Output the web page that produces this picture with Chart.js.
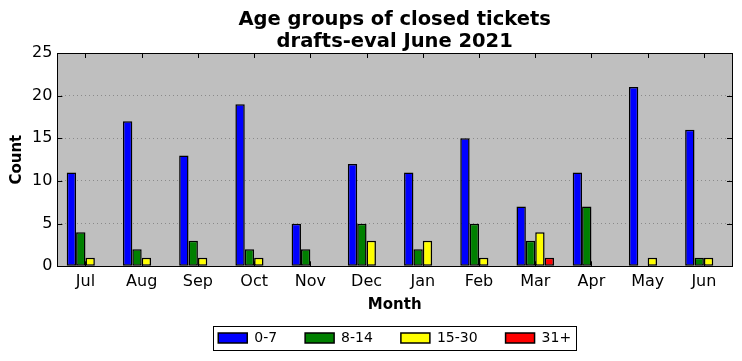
<!DOCTYPE html>
<html>
<head>
<meta charset="utf-8">
<script src="https://cdn.jsdelivr.net/npm/chart.js@4.4.1/dist/chart.umd.min.js"></script>
<style>
  html, body { margin: 0; padding: 0; background: #fff; }
  #wrap { width: 742px; height: 361px; }
</style>
</head>
<body>
<div id="wrap"><canvas id="ticketsChart" width="742" height="361"></canvas></div>
<script>
const months = ["Jul", "Aug", "Sep", "Oct", "Nov", "Dec", "Jan", "Feb", "Mar", "Apr", "May", "Jun"];
const age0to7 = [11, 17, 13, 19, 5, 12, 11, 15, 7, 11, 21, 16];
const age8to14 = [4, 2, 3, 2, 2, 5, 2, 5, 3, 7, 0, 1];
const age15to30 = [1, 1, 1, 1, 0, 3, 3, 1, 4, 0, 1, 1];
const age31plus = [0, 0, 0, 0, 0, 0, 0, 0, 1, 0, 0, 0];
const yTicks = [0, 5, 10, 15, 20, 25];

Chart.defaults.font.family = "'DejaVu Sans', sans-serif";
Chart.defaults.color = "#000";

// plot background, frame, inward ticks and a box round the legend
const framePlugin = {
  id: "frame",
  afterUpdate(chart) {
    // centre title and legend over the plot instead of the canvas
    const a = chart.chartArea;
    const mid = (a.left + a.right) / 2;
    const lg = chart.legend;
    const dx = mid - (lg.left + lg.right) / 2;
    lg.left += dx;
    lg.right += dx;
    lg.legendHitBoxes.forEach((b) => { b.left += dx; });
    const tb = chart.titleBlock;
    if (tb) {
      const tdx = mid - (tb.left + tb.right) / 2;
      tb.left += tdx;
      tb.right += tdx;
    }
  },
  beforeDraw(chart) {
    const { ctx, chartArea: a } = chart;
    ctx.save();
    ctx.fillStyle = "#bfbfbf";
    ctx.fillRect(a.left, a.top, a.right - a.left, a.bottom - a.top);
    ctx.restore();
  },
  afterDraw(chart) {
    const { ctx, chartArea: a, scales } = chart;
    ctx.save();
    ctx.strokeStyle = "#000";
    ctx.lineWidth = 1;
    ctx.strokeRect(Math.round(a.left) + 0.5, Math.round(a.top) + 0.5, Math.round(a.right - a.left), Math.round(a.bottom - a.top));
    ctx.beginPath();
    yTicks.forEach((v) => {
      const y = Math.round(scales.y.getPixelForValue(v)) + 0.5;
      ctx.moveTo(a.left, y); ctx.lineTo(a.left + 5, y);
      ctx.moveTo(a.right, y); ctx.lineTo(a.right - 5, y);
    });
    months.forEach((m, i) => {
      const x = Math.round(scales.x.getPixelForTick(i)) + 0.5;
      ctx.moveTo(x, a.bottom); ctx.lineTo(x, a.bottom - 5);
      ctx.moveTo(x, a.top); ctx.lineTo(x, a.top + 5);
    });
    ctx.stroke();

    const boxes = chart.legend.legendHitBoxes;
    if (boxes && boxes.length) {
      const left = Math.min(...boxes.map((b) => b.left)) - 5;
      const right = Math.max(...boxes.map((b) => b.left + b.width)) + 5;
      const top = Math.min(...boxes.map((b) => b.top)) - 5;
      const bottom = Math.max(...boxes.map((b) => b.top + b.height)) + 5;
      ctx.strokeRect(Math.round(left) + 0.5, Math.round(top) + 0.5, Math.round(right - left), Math.round(bottom - top));
    }
    ctx.restore();
  },
};

const makeSet = (label, data, color) => ({
  label,
  data,
  backgroundColor: color,
  borderColor: "#000",
  borderWidth: 1.5,
  borderSkipped: false,
  categoryPercentage: 0.667,
  barPercentage: 1,
});

new Chart(document.getElementById("ticketsChart"), {
  type: "bar",
  data: {
    labels: months,
    datasets: [
      makeSet("0-7", age0to7, "#0000ff"),
      makeSet("8-14", age8to14, "#008000"),
      makeSet("15-30", age15to30, "#ffff00"),
      makeSet("31+", age31plus, "#ff0000"),
    ],
  },
  options: {
    responsive: false,
    animation: false,
    layout: { padding: { left: 8, right: 10, top: 0, bottom: 6 } },
    scales: {
      x: {
        grid: { display: false, drawTicks: false },
        border: { display: false },
        ticks: { font: { size: 16 }, padding: 6 },
        title: { display: true, text: "Month", font: { size: 15, weight: "bold" }, padding: { top: -1.5, bottom: -11 } },
      },
      y: {
        min: 0,
        max: 25,
        ticks: { stepSize: 5, font: { size: 16 }, padding: 5 },
        grid: {
          drawTicks: false,
          color: (c) => (c.tick && c.tick.value > 0 && c.tick.value < 25 ? "#8a8a8a" : "transparent"),
          lineWidth: 1,
        },
        border: { display: false, dash: [1, 3] },
        title: { display: true, text: "Count", font: { size: 15, weight: "bold" }, padding: { top: 0, bottom: 1 } },
      },
    },
    plugins: {
      title: {
        display: true,
        text: ["Age groups of closed tickets", "drafts-eval June 2021"],
        font: { size: 19.5, weight: "bold", lineHeight: 1.128 },
        padding: { top: 9, bottom: 0 },
      },
      legend: {
        position: "bottom",
        labels: {
          boxWidth: 29,
          boxHeight: 10,
          font: { size: 14 },
          padding: 28,
          color: "#000",
        },
      },
      tooltip: { enabled: false },
    },
  },
  plugins: [framePlugin],
});
</script>
</body>
</html>
